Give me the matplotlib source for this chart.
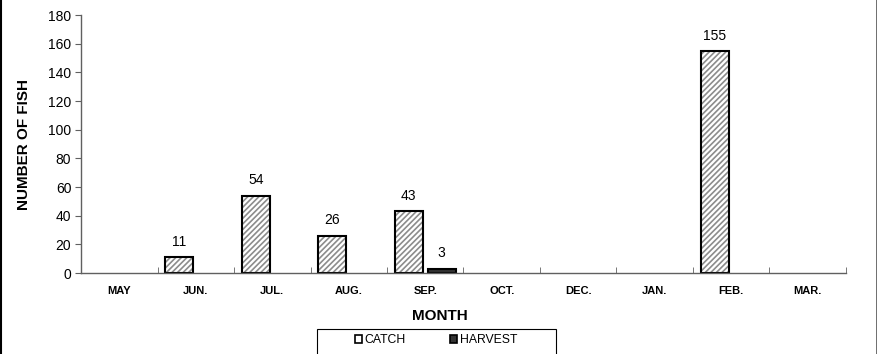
import matplotlib.pyplot as plt
import numpy as np
from matplotlib.patches import Patch, Rectangle
from matplotlib.lines import Line2D

plt.rcParams['font.family'] = ['Liberation Sans', 'DejaVu Sans']
plt.rcParams['hatch.linewidth'] = 1.2

# data
months = ['MAY', 'JUN.', 'JUL.', 'AUG.', 'SEP.', 'OCT.', 'DEC.', 'JAN.', 'FEB.', 'MAR.']
catch = [0, 11, 54, 26, 43, 0, 0, 0, 155, 0]
harvest = [0, 0, 0, 0, 3, 0, 0, 0, 0, 0]

x = np.arange(len(months))
w = 0.37

fig = plt.figure(figsize=(8.77, 3.54), dpi=100)
ax = fig.add_axes([0.0924, 0.2288, 0.8722, 0.7288])

# catch: gray hatch, then a black outline on top
hb = ax.bar(x - 0.215, catch, w, facecolor='white', edgecolor='#8c8c8c', hatch='//////', linewidth=0)
bc = ax.bar(x - 0.215, catch, w, facecolor='none', edgecolor='black', linewidth=1.5)
bh = ax.bar(x + 0.215, harvest, w, facecolor='#333333', edgecolor='black', linewidth=1.5)

# empty months have no bar at all
for bars, vals in [(hb, catch), (bc, catch), (bh, harvest)]:
    for b, v in zip(bars, vals):
        if v == 0:
            b.set_visible(False)

ax.bar_label(bc, labels=[str(v) if v else '' for v in catch], padding=6, fontsize=10)
ax.bar_label(bh, labels=[str(v) if v else '' for v in harvest], padding=6, fontsize=10)

ax.set_xlim(-0.5, 9.5)
ax.set_ylim(0, 180)
ax.set_yticks(np.arange(0, 181, 20))
ax.set_xticks(x)
ax.set_xticklabels(months, fontsize=8, fontweight='bold')
ax.set_xticks(np.arange(-0.5, 10, 1), minor=True)
ax.tick_params(axis='x', which='major', length=0, pad=9)
ax.tick_params(axis='x', which='minor', direction='in', length=4, color='#606060')
ax.tick_params(axis='y', direction='out', length=4, color='#606060', labelsize=10, pad=3)

for s in ['top', 'right']:
    ax.spines[s].set_visible(False)
for s in ['left', 'bottom']:
    ax.spines[s].set_color('#606060')
    ax.spines[s].set_linewidth(1.0)

ax.set_ylabel('NUMBER OF FISH', fontsize=11, fontweight='bold', labelpad=12)
fig.text(0.502, 0.107, 'MONTH', ha='center', va='center', fontsize=11, fontweight='bold')

# legend box, wider than its contents
fig.add_artist(Rectangle((317 / 877, -0.05), 239 / 877, 0.05 + 25 / 354,
                         transform=fig.transFigure, facecolor='white',
                         edgecolor='black', linewidth=0.8))
handles = [Patch(facecolor='white', edgecolor='black', linewidth=1.2),
           Patch(facecolor='#333333', edgecolor='black', linewidth=1.2)]
fig.legend(handles, ['CATCH', 'HARVEST'], ncol=2, loc='center',
           bbox_to_anchor=(436 / 877, 1 - 340 / 354), frameon=False,
           fontsize=8.8, handlelength=0.6, handleheight=0.6, handletextpad=0.2,
           columnspacing=3.6, borderpad=0, borderaxespad=0)

# left and right border of the chart area
fig.add_artist(Line2D([0.001, 0.001], [0, 1], color='black', lw=1.5))
fig.add_artist(Line2D([0.9995, 0.9995], [0, 1], color='#555555', lw=1.2))

fig.savefig('out.png', dpi=100)
